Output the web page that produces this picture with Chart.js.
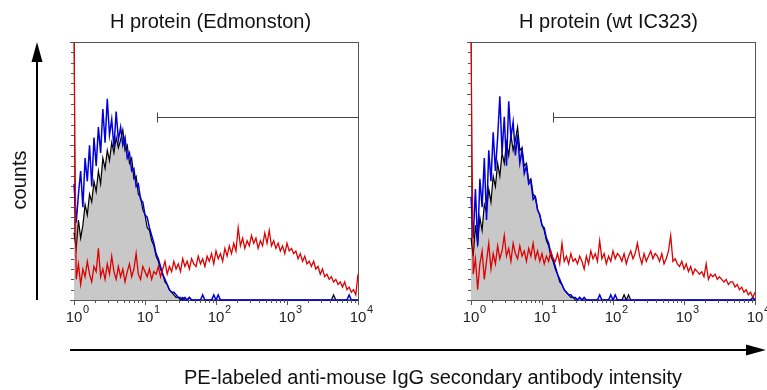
<!DOCTYPE html>
<html>
<head>
<meta charset="utf-8">
<script src="https://cdn.jsdelivr.net/npm/chart.js@4.4.1/dist/chart.umd.min.js"></script>
<style>
    body { margin: 0; background: #fff; width: 767px; height: 390px; overflow: hidden; position: relative; }
    canvas { position: absolute; top: 0; }
    #chartEd { left: 0; }
    #chartIC { left: 390px; }
    svg { position: absolute; left: 0; top: 0; pointer-events: none; font-family: "Liberation Sans", Arial, sans-serif; }
</style>
</head>
<body>
<canvas id="chartEd" width="390" height="340"></canvas>
<canvas id="chartIC" width="377" height="340"></canvas>

<svg width="767" height="390">
    <text x="210.5" y="27.5" font-size="20" text-anchor="middle" fill="#111">H protein (Edmonston)</text>
    <text x="608.5" y="27.5" font-size="20" text-anchor="middle" fill="#111">H protein (wt IC323)</text>
    <text transform="translate(26,180) rotate(-90)" font-size="20" text-anchor="middle" fill="#111">counts</text>
    <text x="433" y="384" font-size="20" text-anchor="middle" fill="#111">PE-labeled anti-mouse IgG secondary antibody intensity</text>
    <!-- axis arrows -->
    <line x1="37" y1="300" x2="37" y2="58" stroke="#000" stroke-width="2"/>
    <polygon points="37,42 31.5,62 42.5,62" fill="#000"/>
    <line x1="70" y1="350" x2="750" y2="350" stroke="#000" stroke-width="2"/>
    <polygon points="766,350 746,344.5 746,355.5" fill="#000"/>
</svg>

<script>
/* ---------- DATA (counts per log channel, 32 channels per decade, 10^0 .. 10^4) ---------- */
const BINS_PER_DECADE = 32;
const decadeLabels = ["0", "1", "2", "3", "4"];

// H protein (Edmonston)
const redEd = [
    100,
    8, 14, 6, 12, 9, 15, 10, 7, 13, 11, 20, 9, 12, 8, 14,
    10, 17, 11, 8, 13, 9, 12, 7, 11, 14, 9, 12, 18, 10, 8, 13,
    11, 9, 12, 8, 11, 10, 13, 9, 12, 15, 10, 13, 11, 15, 12, 14,
    11, 16, 13, 15, 12, 16, 14, 13, 17, 14, 16, 13, 17, 15, 18, 14,
    19, 16, 18, 15, 20, 17, 21, 18, 22, 19, 28, 21, 24, 20, 23, 21,
    25, 22, 24, 20, 23, 21, 26, 22, 27, 21, 23, 20, 22, 19, 21, 18,
    22, 19, 20, 18, 19, 16, 18, 15, 17, 14, 15, 13, 15, 12, 13, 10,
    12, 9, 10, 8, 9, 7, 8, 6, 7, 5, 7, 4, 5, 3, 4, 2,
    10
];
const blueEd = [
    45, 30, 41, 50, 36, 55, 46, 60, 44, 63, 52, 67, 57, 74, 61, 78,
    64, 70, 59, 73, 62, 67, 60, 63, 55, 57, 50, 51, 44, 45, 39, 38,
    33, 32, 28, 25, 22, 18, 16, 13, 10, 8, 6, 4, 3, 3, 2, 1,
    1, 0, 1, 0, 1, 0, 0, 0, 0, 0, 2, 0, 0, 0, 0, 2,
    0, 2, 0, 0, 0, 0, 0, 0, 0, 0, 0, 0, 0, 0, 0, 0,
    0, 0, 0, 0, 0, 0, 0, 0, 0, 0, 0, 0, 0, 0, 0, 0,
    0, 0, 0, 0, 0, 0, 0, 0, 0, 0, 0, 0, 0, 0, 0, 0,
    0, 0, 0, 0, 0, 0, 0, 0, 0, 0, 0, 0, 2, 0, 0, 0,
    0
];
const grayEd = [
    26, 20, 31, 24, 29, 37, 33, 41, 38, 46, 42, 50, 45, 55, 51, 58,
    54, 61, 57, 63, 59, 62, 66, 58, 60, 53, 55, 47, 48, 41, 40, 35,
    33, 28, 27, 23, 21, 17, 15, 12, 10, 7, 6, 4, 3, 2, 1, 1,
    0, 1, 0, 0, 1, 0, 0, 0, 0, 0, 0, 0, 0, 0, 0, 0,
    0, 0, 0, 0, 0, 0, 0, 0, 0, 0, 0, 0, 0, 0, 0, 0,
    0, 0, 0, 0, 0, 0, 0, 0, 0, 0, 0, 0, 0, 0, 0, 0,
    0, 0, 0, 0, 0, 0, 0, 0, 0, 0, 0, 0, 0, 0, 0, 0,
    0, 0, 0, 0, 0, 2, 0, 0, 0, 0, 0, 0, 0, 0, 0, 0,
    0
];

// H protein (wt IC323)
const redIC = [
    100,
    10, 16, 4, 14, 19, 8, 15, 22, 12, 18, 14, 21, 16, 19, 25,
    17, 20, 15, 22, 18, 16, 21, 17, 19, 15, 20, 17, 22, 16, 19, 15,
    18, 14, 17, 15, 19, 16, 15, 18, 14, 22, 15, 17, 14, 18, 15, 16,
    14, 17, 15, 12, 17, 14, 19, 16, 18, 15, 23, 16, 18, 14, 17, 15,
    19, 16, 18, 17, 15, 18, 14, 17, 19, 16, 18, 22, 17, 14, 18, 15,
    17, 19, 16, 18, 17, 15, 18, 14, 16, 19, 25, 15, 16, 14, 13, 15,
    12, 14, 11, 13, 10, 12, 11, 10, 11, 9, 14, 8, 10, 9, 10, 8,
    9, 8, 7, 8, 6, 7, 7, 5, 6, 4, 5, 3, 4, 2, 3, 1,
    3
];
const blueIC = [
    40, 24, 43, 21, 47, 36, 55, 31, 58, 46, 65, 50, 63, 79, 57, 71,
    52, 77, 63, 69, 56, 64, 53, 58, 49, 52, 45, 46, 39, 40, 35, 33,
    29, 28, 24, 22, 18, 16, 13, 10, 8, 6, 4, 3, 2, 2, 1, 1,
    0, 1, 0, 1, 0, 0, 0, 0, 0, 0, 2, 0, 0, 0, 0, 2,
    0, 2, 0, 0, 0, 0, 0, 0, 0, 0, 0, 0, 0, 0, 0, 0,
    0, 0, 0, 0, 0, 0, 0, 0, 0, 0, 0, 0, 0, 0, 0, 0,
    0, 0, 0, 0, 0, 0, 0, 0, 0, 0, 0, 0, 0, 0, 0, 0,
    0, 0, 0, 0, 0, 0, 0, 0, 0, 0, 0, 0, 0, 0, 0, 1,
    0
];
const grayIC = [
    24, 17, 29, 22, 32, 27, 37, 34, 43, 38, 48, 44, 53, 48, 57, 53,
    61, 56, 64, 58, 62, 67, 58, 59, 52, 53, 46, 47, 41, 40, 35, 33,
    29, 27, 23, 21, 17, 15, 12, 10, 7, 6, 4, 3, 2, 1, 1, 0,
    0, 1, 0, 0, 0, 0, 0, 0, 0, 0, 0, 0, 0, 0, 0, 0,
    0, 0, 0, 0, 0, 2, 0, 2, 0, 0, 0, 0, 0, 0, 0, 0,
    0, 0, 0, 0, 0, 0, 0, 0, 0, 0, 0, 0, 0, 0, 0, 0,
    0, 0, 0, 0, 0, 0, 0, 0, 0, 0, 0, 0, 0, 0, 0, 0,
    0, 0, 0, 0, 0, 0, 0, 0, 0, 0, 0, 0, 0, 0, 0, 0,
    0
];

// marker gate (start channel value, level in counts)
const gateEd = { from: 14.8, to: 10000, level: 71 };
const gateIC = { from: 14.3, to: 10000, level: 71 };

const RED = "#dd0000";
const BLUE = "#0000dd";
const GRAY_FILL = "#c8c8c8";
const FRAME = "#555";
const FONT = '"Liberation Sans", Arial, sans-serif';

/* ---------- FRAME / TICKS / GATE PLUGIN ---------- */
const framePlugin = {
    id: "frame",
    beforeDatasetsDraw(chart) {
        const { ctx, chartArea: a } = chart;
        ctx.save();
        ctx.strokeStyle = FRAME;
        ctx.lineWidth = 1;
        ctx.strokeRect(a.left + 0.5, a.top + 0.5, a.right - a.left, a.bottom - a.top);
        ctx.restore();
    },
    afterDatasetsDraw(chart, args, opts) {
        const { ctx, chartArea: a } = chart;
        const xs = chart.scales.x, ys = chart.scales.y;
        ctx.save();
        ctx.strokeStyle = FRAME;
        ctx.lineWidth = 1;

        // y ticks on the left border
        ctx.beginPath();
        for (let k = 0; k <= 25; k++) {
            const y = Math.round(ys.getPixelForValue(k * 4)) + 0.5;
            ctx.moveTo(a.left - (k % 5 === 0 ? 4 : 3), y);
            ctx.lineTo(a.left, y);
        }
        ctx.stroke();

        // x ticks (log decades + minor)
        ctx.beginPath();
        for (let d = 0; d <= 4; d++) {
            for (let m = 1; m <= 9; m++) {
                if (d === 4 && m > 1) break;
                const x = Math.round(xs.getPixelForValue(m * Math.pow(10, d))) + 0.5;
                ctx.moveTo(x, a.bottom);
                ctx.lineTo(x, a.bottom + (m === 1 ? 5 : 3));
            }
        }
        ctx.stroke();

        // tick labels 10^n
        ctx.fillStyle = "#222";
        decadeLabels.forEach((sup, d) => {
            const x = xs.getPixelForValue(Math.pow(10, d));
            ctx.font = "15px " + FONT;
            ctx.textAlign = "center";
            ctx.textBaseline = "alphabetic";
            ctx.fillText("10", x, a.bottom + 22);
            ctx.font = "11px " + FONT;
            ctx.textAlign = "left";
            ctx.fillText(sup, x + 9, a.bottom + 13);
        });

        // marker gate
        const g = opts.gate;
        if (g) {
            const gy = Math.round(ys.getPixelForValue(g.level)) + 0.5;
            const x1 = Math.round(xs.getPixelForValue(g.from)) + 0.5;
            const x2 = xs.getPixelForValue(g.to);
            ctx.strokeStyle = "#444";
            ctx.beginPath();
            ctx.moveTo(x1, gy); ctx.lineTo(x2, gy);
            ctx.moveTo(x1, gy - 5); ctx.lineTo(x1, gy + 5);
            ctx.stroke();
        }
        ctx.restore();
    }
};

/* ---------- PANEL BUILDER ---------- */
function toPoints(values) {
    return values.map((v, i) => ({ x: Math.pow(10, i / BINS_PER_DECADE), y: v }));
}

function makePanel(canvasId, red, blue, gray, gate, padding) {
    const line = { pointRadius: 0, tension: 0, clip: false };
    return new Chart(document.getElementById(canvasId), {
        type: "line",
        data: {
            datasets: [
                { ...line, data: toPoints(red), borderColor: RED, borderWidth: 1.3, fill: false },
                { ...line, data: toPoints(blue), borderColor: BLUE, borderWidth: 1.5, fill: false },
                { ...line, data: toPoints(gray), borderColor: "#000", borderWidth: 1.2, backgroundColor: GRAY_FILL, fill: "origin" }
            ]
        },
        options: {
            responsive: false,
            animation: false,
            layout: { padding: padding },
            plugins: {
                legend: { display: false },
                tooltip: { enabled: false },
                frame: { gate: gate }
            },
            scales: {
                x: { type: "logarithmic", min: 1, max: 10000, display: false },
                y: { type: "linear", min: 0, max: 100, display: false }
            }
        },
        plugins: [framePlugin]
    });
}

makePanel("chartEd", redEd, blueEd, grayEd, gateEd, { left: 74, right: 32, top: 42, bottom: 40 });
makePanel("chartIC", redIC, blueIC, grayIC, gateIC, { left: 81, right: 12, top: 42, bottom: 40 });
</script>
</body>
</html>
